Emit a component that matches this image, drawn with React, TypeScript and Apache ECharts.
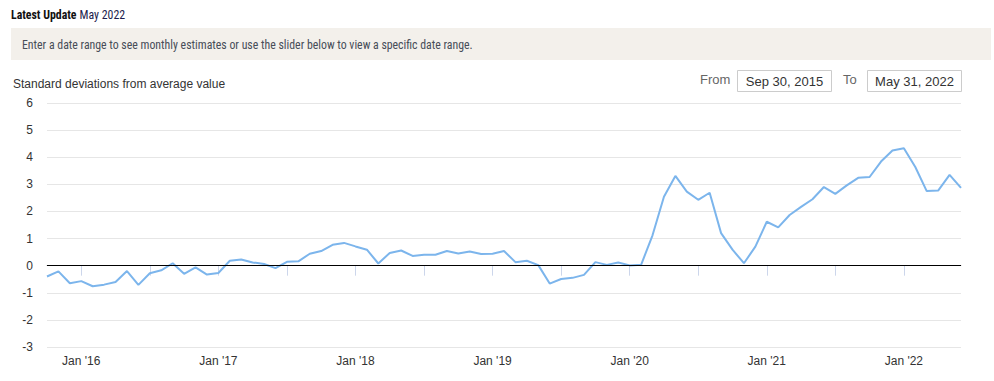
import React, { useEffect, useRef } from "react";
import * as echarts from "echarts";

// Global Supply Chain Pressure Index, month-end values, Sep 2015 .. May 2022
const firstMonth = { year: 2015, month: 9 };
const gscpi = [
  -0.40, -0.21, -0.65, -0.57,
  -0.76, -0.70, -0.60, -0.20, -0.71, -0.28, -0.17, 0.09, -0.30, -0.06, -0.33, -0.27,
  0.18, 0.23, 0.12, 0.06, -0.09, 0.14, 0.16, 0.44, 0.54, 0.77, 0.84, 0.71,
  0.59, 0.08, 0.47, 0.56, 0.36, 0.40, 0.40, 0.54, 0.45, 0.52, 0.43, 0.44,
  0.54, 0.13, 0.18, 0.02, -0.66, -0.49, -0.45, -0.34, 0.13, 0.03, 0.12, 0.01,
  0.03, 1.12, 2.54, 3.31, 2.73, 2.43, 2.69, 1.20, 0.59, 0.09, 0.70, 1.62,
  1.41, 1.87, 2.17, 2.45, 2.90, 2.65, 2.96, 3.24, 3.27, 3.84, 4.25, 4.33,
  3.64, 2.75, 2.77, 3.35, 2.87,
];
// axis in months counted from Jan 1, 2015
const tickMonths = [12, 18, 24, 30, 36, 42, 48, 54, 60, 66, 72, 78, 84];
const labelMonths = [12, 24, 36, 48, 60, 72, 84];
const yTicks = { min: -3, max: 6, interval: 1 };
const monthNames = ["Jan", "Feb", "Mar", "Apr", "May", "Jun", "Jul", "Aug", "Sep", "Oct", "Nov", "Dec"];

const headerBold = "Latest Update";
const headerDate = "May 2022";
const bannerText = "Enter a date range to see monthly estimates or use the slider below to view a specific date range.";
const yTitle = "Standard deviations from average value";
const fromDate = "Sep 30, 2015";
const toDate = "May 31, 2022";

const baseX = (firstMonth.year - 2015) * 12 + firstMonth.month; // end of Sep 2015 = 9
const seriesData = gscpi.map((v, i) => [baseX + i, v]);

const FONT = '"Liberation Sans", Arial, sans-serif';
const NARROW = '"Liberation Sans Narrow", "Roboto Condensed", "DejaVu Sans Condensed", "Liberation Sans", sans-serif';

export default function App() {
  const ref = useRef<HTMLDivElement>(null);
  useEffect(() => {
    if (!ref.current) return;
    const chart = echarts.init(ref.current, undefined, { renderer: "svg" });
    chart.setOption({
      animation: false,
      backgroundColor: "#ffffff",
      grid: { left: 47, right: 33, top: 103, bottom: 34, containLabel: false },
      xAxis: {
        type: "value",
        min: baseX,
        max: baseX + gscpi.length - 1,
        splitLine: { show: false },
        axisLine: { show: true, lineStyle: { color: "#c0c0c0", width: 1 } },
        axisTick: {
          show: true,
          customValues: tickMonths,
          length: 10,
          lineStyle: { color: "#ccd6eb", width: 1 },
        },
        axisLabel: {
          customValues: labelMonths,
          color: "#333333",
          fontSize: 12,
          fontFamily: FONT,
          margin: 8,
          formatter: (v: number) => {
            const y = 2015 + Math.floor(v / 12);
            const m = Math.round(v) % 12;
            return monthNames[m] + " '" + String(y).slice(2);
          },
        },
      },
      yAxis: {
        type: "value",
        min: yTicks.min,
        max: yTicks.max,
        interval: yTicks.interval,
        axisLine: { show: false },
        axisTick: { show: false },
        splitLine: { show: true, lineStyle: { color: "#e6e6e6", width: 1 } },
        axisLabel: { color: "#333333", fontSize: 12, fontFamily: FONT, margin: 14 },
      },
      series: [
        {
          type: "line",
          data: seriesData,
          showSymbol: false,
          symbol: "none",
          lineStyle: { color: "#7cb5ec", width: 2 },
          markLine: {
            silent: true,
            symbol: "none",
            label: { show: false },
            lineStyle: { color: "#000000", width: 1, type: "solid" },
            data: [{ yAxis: 0 }],
          },
        },
      ],
      graphic: [
        {
          type: "text",
          x: 11,
          y: 8,
          scaleX: 0.91,
          style: {
            text: "{b|" + headerBold + "} {d|" + headerDate + "}",
            verticalAlign: "top",
            rich: {
              b: { fontFamily: NARROW, fontWeight: "bold", fontSize: 13, fill: "#111111" },
              d: { fontFamily: NARROW, fontSize: 13, fill: "#1c1c4c" },
            },
          },
        },
        {
          type: "rect",
          shape: { x: 11, y: 28, width: 980, height: 32 },
          style: { fill: "#f3f0eb" },
        },
        {
          type: "text",
          x: 22,
          y: 38,
          scaleX: 0.91,
          style: { text: bannerText, fontFamily: NARROW, fontSize: 13, fill: "#474d58", verticalAlign: "top" },
        },
        {
          type: "text",
          left: 13,
          top: 78,
          style: { text: yTitle, fontFamily: FONT, fontSize: 12, fill: "#333333" },
        },
        {
          type: "text",
          left: 700,
          top: 73,
          style: { text: "From", fontFamily: FONT, fontSize: 13, fill: "#666666" },
        },
        {
          type: "rect",
          shape: { x: 737.5, y: 70.5, width: 94, height: 21 },
          style: { fill: "#ffffff", stroke: "#cccccc", lineWidth: 1 },
        },
        {
          type: "text",
          x: 784.5,
          y: 81,
          style: { text: fromDate, fontFamily: FONT, fontSize: 13, fill: "#333333", align: "center", verticalAlign: "middle" },
        },
        {
          type: "text",
          left: 843,
          top: 73,
          style: { text: "To", fontFamily: FONT, fontSize: 13, fill: "#666666" },
        },
        {
          type: "rect",
          shape: { x: 867.5, y: 70.5, width: 94, height: 21 },
          style: { fill: "#ffffff", stroke: "#cccccc", lineWidth: 1 },
        },
        {
          type: "text",
          x: 914.5,
          y: 81,
          style: { text: toDate, fontFamily: FONT, fontSize: 13, fill: "#333333", align: "center", verticalAlign: "middle" },
        },
      ],
    });
    return () => chart.dispose();
  }, []);
  return (
    <div
      ref={ref}
      style={{ position: "fixed", left: 0, top: 0, width: 994, height: 381, background: "#fff" }}
    />
  );
}
